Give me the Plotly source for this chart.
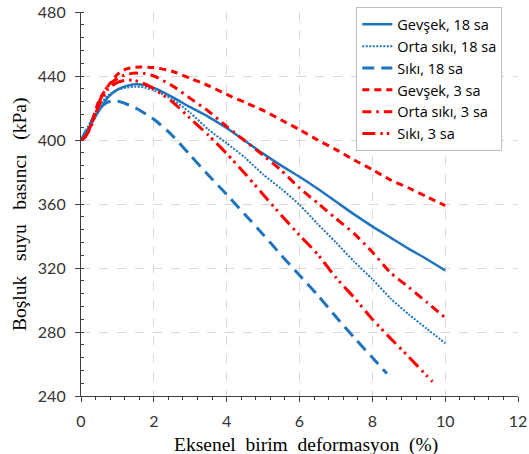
import plotly.graph_objects as go

# ---- data ----
x_gevsek18 = [0, 0.25, 0.5, 0.75, 1, 1.25, 1.5, 1.75, 2, 2.5, 3, 3.5, 4, 4.5, 5, 5.5, 6, 6.5, 7, 7.5, 8, 8.5, 9, 9.5, 10]
y_gevsek18 = [400, 409, 418.5, 427, 431.5, 433.8, 434.8, 434.3, 432.6, 427, 420.5, 414.5, 407.5, 399.5, 391.5, 384, 377, 369.5, 361.5, 353.5, 346, 339, 332, 325.5, 318.5]

x_orta18 = [0, 0.25, 0.5, 0.75, 1, 1.25, 1.5, 1.75, 2, 2.5, 3, 3.5, 4, 4.5, 5, 5.5, 6, 6.5, 7, 7.5, 8, 8.5, 9, 9.5, 10]
y_orta18 = [400, 411, 421.5, 428, 431.3, 432.8, 433.3, 432.8, 431, 425.5, 417, 406.5, 398, 389, 378.5, 369.5, 359.5, 347.5, 336, 324, 313, 301, 291, 282, 273]

x_siki18 = [0, 0.25, 0.5, 0.75, 1, 1.25, 1.5, 2, 2.5, 3, 3.5, 4, 4.5, 5, 5.5, 6, 6.5, 7, 7.5, 8, 8.4]
y_siki18 = [400, 410, 419.5, 423.8, 424.2, 422.5, 420, 413, 403, 390.5, 378, 366, 353.5, 341, 328, 315.5, 303, 289.5, 276.5, 264, 254]

x_gevsek3 = [0, 0.1, 0.25, 0.5, 0.75, 1, 1.25, 1.5, 2, 2.5, 3, 3.5, 4, 4.5, 5, 5.5, 6, 6.5, 7, 7.5, 8, 8.5, 9, 9.5, 10]
y_gevsek3 = [400, 401.5, 408, 425, 434, 441, 444.5, 445.5, 445.3, 443, 438.5, 434, 428.5, 423.5, 418.5, 412.5, 406.5, 400, 394, 387.5, 381.5, 375, 370, 364.5, 359]

x_orta3 = [0, 0.1, 0.25, 0.5, 0.75, 1, 1.25, 1.5, 1.75, 2, 2.5, 3, 3.5, 4, 4.5, 5, 5.5, 6, 6.5, 7, 7.5, 8, 8.5, 9, 9.5, 10]
y_orta3 = [400, 401.5, 408, 424, 434, 438.5, 441, 441.8, 441.5, 440, 434, 426, 418, 408.5, 399.5, 390.5, 381, 370, 360.5, 351, 341.5, 330, 317, 308, 298.5, 289]

x_siki3 = [0, 0.1, 0.25, 0.5, 0.75, 1, 1.25, 1.5, 1.75, 2, 2.5, 3, 3.5, 4, 4.5, 5, 5.5, 6, 6.5, 7, 7.5, 8, 8.5, 9, 9.5, 9.65]
y_siki3 = [400, 401.5, 407, 422, 432, 436, 437.5, 437, 435, 432, 424, 413.5, 403, 391.5, 379, 366, 353, 340.5, 328.5, 314, 301.5, 288, 276, 264.5, 252.5, 249]

names = ["Gevşek, 18 sa", "Orta sıkı, 18 sa", "Sıkı, 18 sa", "Gevşek, 3 sa", "Orta sıkı, 3 sa", "Sıkı, 3 sa"]
x_ticks = [0, 2, 4, 6, 8, 10, 12]
y_ticks = [240, 280, 320, 360, 400, 440, 480]
x_title = "Eksenel  birim  deformasyon  (%)"
y_title = "Boşluk   suyu   basıncı   (kPa)"

BLUE = "#1F74BE"
RED = "#FF0000"

series = [
    (x_gevsek18, y_gevsek18, BLUE, "solid", 2.5),
    (x_orta18, y_orta18, BLUE, "2px,1.5px", 2),
    (x_siki18, y_siki18, BLUE, "12px,7px", 3),
    (x_gevsek3, y_gevsek3, RED, "7px,5px", 3),
    (x_orta3, y_orta3, RED, "9px,5px,2.5px,5px", 3),
    (x_siki3, y_siki3, RED, "13px,5px,2.5px,4px,2.5px,5px", 3),
]

fig = go.Figure()
for (xs, ys, col, dash, w), nm in zip(series, names):
    fig.add_trace(go.Scatter(x=xs, y=ys, mode="lines", name=nm,
                             line=dict(color=col, dash=dash, width=w, shape="spline", smoothing=0.6)))

tickfont = dict(family="Lato, Open Sans, sans-serif", size=16, color="#333333")
titlefont = dict(family="Liberation Serif, Times New Roman, serif", size=19.5, color="#000000")

fig.update_layout(
    width=529, height=454,
    margin=dict(l=81, r=11, t=12, b=58, autoexpand=False),
    paper_bgcolor="white", plot_bgcolor="white",
    showlegend=True,
    legend=dict(x=0.63, y=1.012, xanchor="left", yanchor="top",
                bgcolor="white", bordercolor="#BFBFBF", borderwidth=1,
                font=dict(family="Open Sans, sans-serif", size=14.5, color="#000000"),
                itemwidth=30, tracegroupgap=0),
    xaxis=dict(range=[0, 12], tickvals=x_ticks, ticktext=[str(v) for v in x_ticks],
               showgrid=True, gridcolor="#D9D9D9", griddash="dash", gridwidth=1,
               showline=True, linecolor="#404040", linewidth=1.2,
               ticks="outside", ticklen=5, tickcolor="#404040",
               minor=dict(dtick=0.4, ticks="outside", ticklen=3, tickcolor="#404040", showgrid=False),
               tickfont=tickfont, zeroline=False, ticklabelstandoff=6, automargin=False),
    yaxis=dict(range=[240, 480], tickvals=y_ticks, ticktext=[str(v) for v in y_ticks],
               showgrid=True, gridcolor="#D9D9D9", griddash="dash", gridwidth=1,
               showline=True, linecolor="#404040", linewidth=1.2,
               ticks="outside", ticklen=5, tickcolor="#404040",
               minor=dict(dtick=8, ticks="inside", ticklen=3, tickcolor="#404040", showgrid=False),
               tickfont=tickfont, zeroline=False, ticklabelstandoff=6, automargin=False),
    annotations=[
        dict(text=x_title, xref="paper", yref="paper", x=0.515, y=-0.127,
             xanchor="center", yanchor="middle", showarrow=False, font=titlefont),
        dict(text=y_title, xref="paper", yref="paper", x=-0.1396, y=0.474,
             xanchor="center", yanchor="middle", showarrow=False, textangle=-90, font=titlefont),
    ],
)

fig.write_html("out.html")
